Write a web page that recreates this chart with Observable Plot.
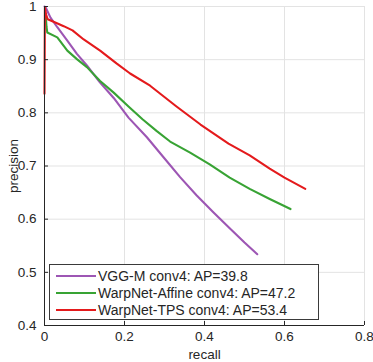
<!DOCTYPE html>
<html>
<head>
<meta charset="utf-8">
<script src="https://cdn.jsdelivr.net/npm/d3@7"></script>
<script src="https://cdn.jsdelivr.net/npm/@observablehq/plot@0.6"></script>
<style>
  html, body { margin: 0; padding: 0; background: #fff; }
  #wrap { position: relative; width: 373px; height: 362px; }
  #legend { position: absolute; left: 49px; top: 264px; width: 268px; height: 54px;
    border: 1px solid #3a3a3a; background: #fff; font-family: "Liberation Sans", Arial, sans-serif;
    font-size: 14px; color: #262626; }
  .row { position: absolute; left: 0; height: 17px; line-height: 17px; white-space: nowrap; }
  .row .sw { position: absolute; left: 6px; top: 7.5px; width: 40px; height: 2px; }
  .row .lb { position: absolute; left: 48px; top: 0; }
</style>
</head>
<body>
<div id="wrap"></div>
<script>
// ---- data ----
const seriesNames = ["VGG-M conv4: AP=39.8", "WarpNet-Affine conv4: AP=47.2", "WarpNet-TPS conv4: AP=53.4"];
const seriesColors = ["#9d56b4", "#38a334", "#e41a1c"];

const vggRecall    = [0, 0.003, 0.015, 0.032, 0.057, 0.081, 0.106, 0.139, 0.173, 0.21, 0.256, 0.297, 0.339, 0.38, 0.422, 0.463, 0.50, 0.532];
const vggPrecision = [1.0, 0.998, 0.979, 0.961, 0.936, 0.911, 0.889, 0.857, 0.828, 0.791, 0.754, 0.717, 0.679, 0.645, 0.613, 0.583, 0.556, 0.534];

const affRecall    = [0.003, 0.005, 0.007, 0.032, 0.057, 0.081, 0.106, 0.139, 0.173, 0.21, 0.245, 0.28, 0.314, 0.364, 0.413, 0.463, 0.513, 0.563, 0.615];
const affPrecision = [0.985, 0.962, 0.951, 0.942, 0.917, 0.901, 0.886, 0.860, 0.838, 0.812, 0.788, 0.766, 0.746, 0.725, 0.703, 0.678, 0.657, 0.638, 0.619];

const tpsRecall    = [0, 0.001, 0.004, 0.008, 0.027, 0.048, 0.07, 0.098, 0.139, 0.18, 0.214, 0.264, 0.33, 0.39, 0.46, 0.513, 0.563, 0.60, 0.652];
const tpsPrecision = [0.836, 0.998, 0.985, 0.976, 0.970, 0.963, 0.955, 0.938, 0.917, 0.893, 0.874, 0.851, 0.812, 0.778, 0.742, 0.720, 0.695, 0.678, 0.657];

const xTicks = [0, 0.2, 0.4, 0.6, 0.8];
const yTicks = [0.4, 0.5, 0.6, 0.7, 0.8, 0.9, 1];

// ---- build table ----
const recalls = [vggRecall, affRecall, tpsRecall];
const precisions = [vggPrecision, affPrecision, tpsPrecision];
const rows = seriesNames.flatMap((name, i) =>
  recalls[i].map((r, j) => ({name, color: seriesColors[i], r, p: precisions[i][j]})));

const ink = "#262626";
const fmt = d3.format("~g");
const chart = Plot.plot({
  width: 373,
  height: 362,
  marginLeft: 44,
  marginRight: 9,
  marginTop: 6,
  marginBottom: 37,
  style: {fontFamily: "'Liberation Sans', Arial, sans-serif", fontSize: "13.5px", color: ink, background: "#fff", overflow: "visible"},
  x: {domain: [0, 0.8]},
  y: {domain: [0.4, 1]},
  marks: [
    Plot.gridX(xTicks, {stroke: "#e3e3e3", strokeOpacity: 1}),
    Plot.gridY(yTicks, {stroke: "#e3e3e3", strokeOpacity: 1}),
    Plot.line(rows, {x: "r", y: "p", z: "name", stroke: "color", strokeWidth: 2.1}),
    Plot.ruleX([xTicks[0]], {stroke: ink}),
    Plot.ruleY([yTicks[0]], {stroke: ink}),
    Plot.axisX(xTicks, {tickSize: -4, tickPadding: 10, tickFormat: fmt, stroke: ink, fontSize: 13.5, label: "recall", labelAnchor: "center", labelArrow: "none", labelOffset: 33}),
    Plot.axisY(yTicks, {tickSize: -4, tickPadding: 12, tickFormat: fmt, stroke: ink, fontSize: 13.5, label: "precision", labelAnchor: "center", labelArrow: "none", labelOffset: 36})
  ]
});
const wrap = document.getElementById("wrap");
wrap.appendChild(chart);

// ---- legend overlay ----
const legend = document.createElement("div");
legend.id = "legend";
const rowTops = [2.5, 19.7, 36.9];
seriesNames.forEach((name, i) => {
  const row = document.createElement("div");
  row.className = "row";
  row.style.top = rowTops[i] + "px";
  const sw = document.createElement("div");
  sw.className = "sw";
  sw.style.background = seriesColors[i];
  const lb = document.createElement("span");
  lb.className = "lb";
  lb.textContent = name;
  row.appendChild(sw);
  row.appendChild(lb);
  legend.appendChild(row);
});
wrap.appendChild(legend);
</script>
</body>
</html>
